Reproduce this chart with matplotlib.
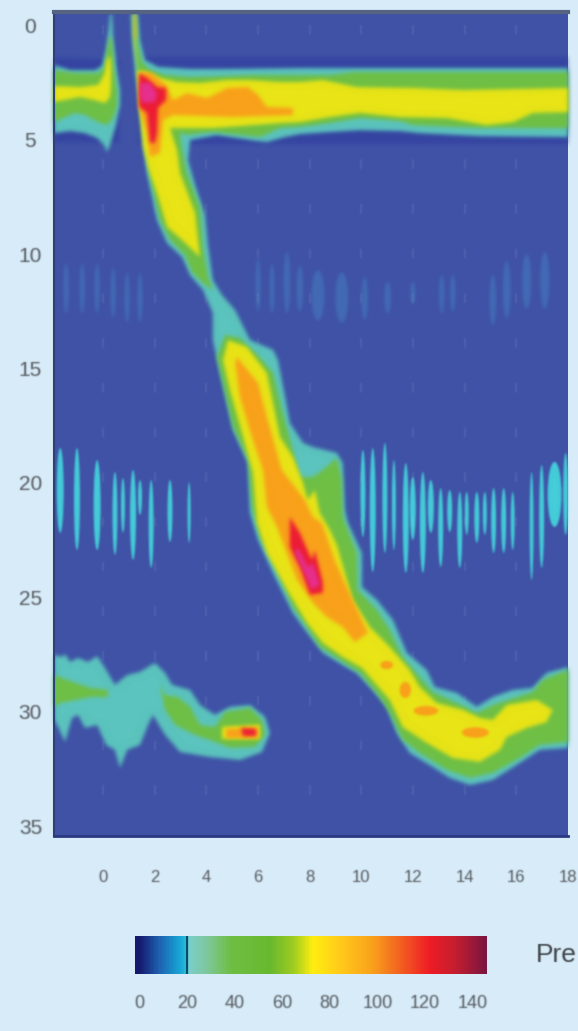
import numpy as np
import matplotlib
matplotlib.use("Agg")
import matplotlib.pyplot as plt
from matplotlib.colors import LinearSegmentedColormap
from matplotlib.patches import Ellipse

plt.rcParams['font.family'] = ['Liberation Sans', 'DejaVu Sans']

# ---- axis labels -----------------------------------------------------------
time_ticks = [0, 2, 4, 6, 8, 10, 12, 14, 16, 18]
depth_ticks = [0, 5, 10, 15, 20, 25, 30, 35]
pressure_ticks = [0, 20, 40, 60, 80, 100, 120, 140]
pressure_title = "Pre"

# ---- isobars: time (s), depth (cm) ------------------------------------------
# upper sphincter band + peristaltic front
main20_t = [1.08,1.35,1.43,1.62,2.13,3.37,4.72,7.62,9.55,18,18,14.58,12.26,11.49,9.94,8.78,7.62,7.04,6.34,5.69,4.41,3.37,3.29,3.56,3.95,4.06,4.25,4.60,5.11,5.69,6.58,6.77,7.12,7.23,7.74,8.12,9.05,9.28,9.36,9.48,10.02,10.02,10.60,11.22,11.76,12.53,12.84,13.69,14.47,15.09,15.86,16.63,17.17,18,18,16.90,16.13,15.09,14.20,13.42,12.76,11.87,11.37,10.98,10.44,9.82,9.28,8.51,7.74,7.35,6.58,6.00,5.69,5.61,5.03,4.53,4.25,4.25,3.87,3.37,3.06,2.48,2.09,1.70,1.51,1.24,1.12]
main20_d = [-0.48,-0.48,0.66,1.53,1.83,1.92,1.92,1.88,1.88,1.88,4.89,4.85,4.72,4.63,4.59,4.67,4.76,4.89,5.11,5.02,4.80,5.02,5.90,6.99,8.30,9.61,11.14,11.79,12.45,13.76,14.19,14.63,16.68,17.38,18.25,18.43,18.69,19.13,21.18,21.75,23.06,24.54,25.11,25.98,27.42,28.17,28.91,29.17,29.78,29.35,29.04,28.95,28.30,28.04,31.57,31.66,32.23,32.97,33.19,32.88,32.40,31.79,30.92,29.78,29.04,28.30,27.95,27.42,26.29,25.68,23.93,22.49,21.31,19.13,17.69,15.20,13.76,12.58,11.57,10.92,10.13,9.52,8.52,6.46,4.72,1.97,0.44]
top40_t = [1.18,1.26,1.35,1.51,1.82,2.40,3.37,4.72,5.69,7.62,8.78,9.75,11.49,18,18,14.58,11.99,11.49,9.94,8.78,7.62,6.85,6.07,4.25,3.25,2.98,3.06,3.25,3.75,3.87,4.06,4.25,3.95,3.44,3.17,2.59,2.20,1.78,1.59,1.35,1.20]
top40_d = [-0.48,-0.48,0.87,1.62,1.97,2.18,2.27,2.23,2.18,2.18,2.18,2.05,2.05,2.05,4.50,4.50,4.37,4.19,4.06,4.28,4.45,4.50,4.89,4.67,4.80,4.72,5.46,6.46,7.95,9.69,11.0,11.57,11.35,10.79,10.04,9.39,8.52,6.46,4.72,2.18,0.44]
top60_t = [1.19,1.24,1.26,1.32,1.70,2.20,2.86,3.75,4.80,5.69,6.85,7.62,8.51,9.82,11.99,13.93,18,18,16.63,15.86,14.85,13.31,11.49,9.94,8.78,7.62,6.85,4.25,2.59,2.86,2.98,3.56,3.75,3.06,2.48,2.13,1.74,1.55,1.43,1.35,1.20]
top60_d = [-0.48,-0.48,0.87,1.97,2.05,2.31,2.49,2.53,2.40,2.40,2.49,2.49,2.40,2.71,2.75,2.84,2.75,3.80,3.84,4.24,4.37,4.06,4.02,3.84,4.02,4.24,4.28,4.50,4.50,5.46,6.46,8.21,10.13,9.39,8.82,7.51,6.20,5.33,3.84,2.40,0.79]
top80_t = [1.82,2.44,2.71,3.25,4.02,4.80,5.61,6.0,6.34,7.35,7.35,5.03,2.71,2.32,2.20,1.82,1.70,1.39,1.39]
top80_d = [2.05,2.62,3.28,2.97,3.19,2.75,2.71,3.06,3.58,3.62,3.93,4.02,3.93,4.15,5.59,5.76,4.72,3.58,2.10]
tip80_t = [1.20,1.25,1.26,1.21]
tip80_d = [-0.48,-0.48,0.57,0.57]
top120_t = [1.39,1.70,2.09,2.44,2.44,2.13,2.09,2.01,1.82,1.70,1.39]
top120_d = [2.10,2.31,2.71,2.75,3.28,3.62,4.72,5.15,5.15,3.84,3.58]
top140_t = [1.43,1.82,2.09,2.01,1.55,1.43]
top140_d = [2.53,2.53,2.97,3.36,3.41,3.14]

# body contraction wave
wave40_t = [4.72,5.30,6.07,6.58,6.96,7.35,7.62,8.12,8.51,9.05,9.24,9.28,9.82,9.86,10.6,11.1,11.6,12.26,12.76,13.69,14.47,15.09,16.63,17.02,18,18,16.9,16.13,15.09,14.2,13.31,12.26,11.6,11.1,10.71,9.94,9.28,8.39,7.62,7.35,6.65,6.07,5.76,5.61,5.03,4.64,4.41]
wave40_d = [13.54,13.67,14.5,15.2,16.94,18.56,19.74,19.74,19.43,18.91,19.87,21.48,23.06,24.67,25.55,26.42,27.6,28.47,29.13,29.61,30.04,29.7,29.13,28.6,28.17,31.31,31.44,32.01,32.66,32.88,32.53,31.79,31.22,30.04,29.35,28.3,27.82,27.16,25.85,25.42,23.67,22.36,21.05,18.99,17.55,15.63,14.5]
wave60_t = [4.84,5.57,6.34,6.85,7.35,7.70,7.93,8.2,8.39,8.78,9.05,9.67,10.33,11.1,11.87,12.26,12.92,13.93,14.58,15.09,15.63,16.79,17.41,17.17,16.4,15.63,15.36,14.58,13.54,12.53,11.6,11.1,10.02,9.28,8.51,7.89,7.12,6.34,5.96,5.80,5.38,4.91,4.64]
wave60_d = [13.76,14.06,15.2,17.99,18.87,19.87,20.74,20.31,21.31,22.05,22.71,25.11,26.29,27.16,28.17,28.91,29.61,29.91,30.26,30.35,29.7,29.48,29.91,30.44,30.7,31.09,31.66,32.18,32.01,31.35,30.66,29.48,28.08,27.6,26.99,26.11,24.67,23.06,21.75,19.56,17.82,15.94,14.63]
wave80_t = [5.18,6.0,6.34,6.92,7.81,8.12,8.47,8.97,9.48,10.25,9.75,9.28,8.66,8.12,7.5,6.73,6.34,6.19,5.76,5.3,5.11]
wave80_d = [14.5,15.63,17.12,19.43,20.74,21.48,21.75,23.37,24.67,26.55,26.95,26.29,25.85,25.24,24.23,21.92,21.05,19.43,17.99,16.25,14.76]
wave120_t = [7.23,7.62,8.08,8.2,8.51,8.51,8.01,7.62,7.23]
wave120_d = [21.48,22.18,23.36,22.93,24.37,24.8,24.89,23.67,22.8]
wave140_t = [7.54,7.93,8.12,8.39,8.08,7.74,7.43]
wave140_d = [22.8,23.67,23.49,24.45,24.67,23.8,23.06]
spot80_t = [10.98,11.70,12.50,14.41]
spot80_d = [27.95,29.04,29.95,30.90]
spot80_dt = [0.50,0.44,0.95,1.05]
spot80_dd = [0.36,0.70,0.42,0.46]

# left segment of the upper sphincter and pharyngeal peak
left20_t = [-1.9,-1.28,-.31,-.04,.12,.23,.27,.35,.39,.54,.66,.66,.5,.27,.15,.04,-.23,-.7,-1.28,-1.9]
left20_d = [1.75,1.97,1.97,1.79,1.09,0,-.48,-.48,.66,1.97,2.84,3.49,4.37,5.24,5.55,5.24,4.93,4.72,4.63,4.72]
left40_t = [-1.9,-1.08,-.19,.04,.15,.27,.35,.43,.54,.54,.39,.15,-.19,-.7,-1.08,-1.47,-1.9]
left40_d = [1.97,2.1,2.1,1.88,1.09,.44,.66,1.97,2.84,3.49,4.06,4.37,4.24,3.93,3.84,4.02,4.24]
left60_t = [-1.9,-.89,-.19,.04,.15,.27,.31,.31,.27,.08,-.31,-.89,-1.9]
left60_d = [2.66,2.71,2.62,2.18,1.53,1.31,1.75,2.62,3.14,3.41,3.28,3.14,3.36]

# lower sphincter segment, bottom left
low20_t = [-1.9,-1.59,-1.47,-1.28,-.97,-.58,-.23,0,.46,.93,1.43,2.01,2.4,2.67,3.37,3.75,4.33,4.91,5.69,6.27,6.46,6.15,5.3,4.14,2.98,2.4,1.93,1.74,1.43,.93,.66,.46,.12,-.23,-.7,-.97,-1.2,-1.47,-1.78,-1.9]
low20_d = [27.51,27.6,27.47,27.82,27.64,27.82,27.56,27.95,28.82,28.39,28.25,27.86,28.3,28.82,29.04,29.7,30.13,29.78,29.7,30.22,30.92,31.75,32.1,31.97,31.75,31.0,30.13,30.57,31.44,31.66,32.45,31.66,31.44,30.57,30.7,30.13,30.26,31.31,30.57,30.35]
lowa40_t = [-1.9,-1.08,-.5,.19,.19,-.5,-1.08,-1.66,-1.9]
lowa40_d = [28.39,28.73,28.95,29.04,29.35,29.35,29.48,29.61,29.78]
lowb40_t = [2.2,2.4,2.9,3.37,3.75,4.33,4.72,5.69,6.15,6.27,5.88,4.91,4.33,3.56,2.79,2.4]
lowb40_d = [28.82,29.26,29.35,29.78,30.57,30.66,30.0,29.83,30.35,31.0,31.53,31.57,31.31,31.0,30.57,29.91]
low60_t = [4.6,6.08,6.08,4.6]
low60_d = [30.65,30.56,31.18,31.18]
low80_t = [4.76,6.0,6.0,4.76]
low80_d = [30.74,30.69,31.14,31.14]
low120_t = [5.34,5.92,5.92,5.42]
low120_d = [30.70,30.74,31.05,31.05]

# darker low-pressure fringe round the upper band: time, upper depth, lower depth
fringe_t = [-1.9, 0.6, 1.4, 18]
fringe_top = [1.4, 1.5, 1.4, 1.4]
fringe_bot = [5.1, 5.1, 5.2, 5.2]

# thin pressure streaks: time, upper depth, lower depth, duration
streak_t = [-1.66,-1.01,-.23,.46,.77,1.16,1.43,1.86,2.59,3.33,10.06,10.44,10.91,11.26,11.72,11.99,12.38,12.69,13.07,13.42,13.81,14.08,14.47,14.78,15.12,15.51,15.86,16.59,16.98,17.48,17.91]
streak_top = [18.47,18.47,19.0,19.52,19.78,19.43,19.87,19.87,19.87,19.96,18.56,18.47,18.25,19.0,19.13,19.74,19.52,19.87,20.22,20.31,20.39,20.39,20.39,20.39,20.22,20.22,20.39,19.52,19.21,19.08,18.69]
streak_bot = [22.18,22.93,22.93,23.14,22.18,23.36,21.4,23.71,22.58,22.62,22.36,23.89,23.06,22.93,23.93,22.49,23.93,22.18,23.67,22.14,23.71,22.27,22.62,22.27,23.06,23.06,22.93,24.24,23.71,21.92,22.27]
streak_dt = [.27,.23,.27,.19,.15,.23,.15,.19,.19,.12,.19,.23,.19,.15,.23,.23,.23,.23,.19,.19,.19,.15,.19,.15,.19,.19,.15,.15,.19,.54,.19]
faint_t = [-1.43,-.81,-.23,.39,.93,1.43,6.0,6.54,7.12,7.62,8.32,9.24,10.13,11.02,11.99,13.11,13.54,15.09,15.63,16.4,17.1]
faint_top = [10.4,10.4,10.4,10.6,10.8,10.8,10.2,10.4,9.9,10.5,10.7,10.8,11.0,11.2,11.2,10.9,10.9,10.9,10.3,10.0,9.9]
faint_bot = [12.6,12.6,12.6,12.8,13.0,13.0,12.5,12.6,12.6,12.5,12.9,13.0,12.9,12.6,12.2,12.6,12.5,13.1,12.8,12.4,12.4]
faint_dt = [.2,.2,.2,.2,.2,.2,.2,.2,.25,.25,.5,.5,.25,.25,.2,.2,.2,.25,.3,.35,.35]

# colour scale: pressure stop, colour
scale_p = [0,8,17,19.9,21,28,38,55,65,73,85,98,108,122,132,146]
scale_c = ['#15196E','#1E5FAF','#18A5D6','#2EBFD6','#7CCDC8','#7DC8A0','#6FBE45','#68B82E','#A0CC20','#FFEE10','#FFC81A','#F9A11B','#F36A20','#EE1C25','#C81E2E','#7A1540']

C_BG = '#3F52A6'; C20 = '#5CC4BE'; C40 = '#6FBF45'; C60 = '#E8E416'
C80 = '#F9A11B'; C120 = '#ED1C36'; C140 = '#E6308F'
PAGE = '#D7EBF8'; TXT = '#55595E'


def blur(sigma):
    r = int(3 * sigma) + 1
    k = np.exp(-0.5 * (np.arange(-r, r + 1) / sigma) ** 2)
    k /= k.sum()

    def run(img, dpi):
        pad = r + 1
        src = np.pad(img, ((pad, pad), (pad, pad), (0, 0)))
        a = src[..., 3:]
        pm = np.concatenate([src[..., :3] * a, a], axis=2)
        for axis in (0, 1):
            out = np.zeros_like(pm)
            for w, s in zip(k, range(-r, r + 1)):
                out += w * np.roll(pm, s, axis=axis)
            pm = out
        al = np.clip(pm[..., 3:], 1e-4, 1)
        res = np.concatenate([np.clip(pm[..., :3] / al, 0, 1), pm[..., 3:]], axis=2)
        return res, -pad, -pad
    return run


fig = plt.figure(figsize=(5.78, 10.31), dpi=100, facecolor=PAGE)
ax = fig.add_axes([54 / 578, 1 - 836 / 1031, 514 / 578, 824 / 1031], facecolor=C_BG)
ax.set_xlim(-1.9, 18)
ax.set_ylim(35.42, -0.57)

soft = blur(2.0)
fr = ax.fill_between(fringe_t[:2], fringe_top[:2], fringe_bot[:2], color='#2E3A9E', alpha=0.55, lw=0, zorder=0.8)
fr.set_agg_filter(blur(1.5))
fr = ax.fill_between(fringe_t[2:], fringe_top[2:], fringe_bot[2:], color='#2E3A9E', alpha=0.55, lw=0, zorder=0.8)
fr.set_agg_filter(blur(1.5))
for t, top, bot, dt in zip(faint_t, faint_top, faint_bot, faint_dt):
    e = Ellipse((t, (top + bot) / 2), dt, bot - top, color='#4472BA', lw=0, alpha=0.75, zorder=1)
    ax.add_patch(e)
    e.set_agg_filter(blur(1.6))
for t, top, bot, dt in zip(streak_t, streak_top, streak_bot, streak_dt):
    e = Ellipse((t, (top + bot) / 2), dt, bot - top, color='#45CDDA', lw=0, zorder=1)
    ax.add_patch(e)
    e.set_agg_filter(blur(1.0))
grid = ax.vlines(time_ticks[:-1], 0, 35, colors='white', alpha=0.09, lw=1.4,
                 linestyles=(0, (5, 18)), zorder=1.5)
grid.set_agg_filter(blur(0.8))

layers = [
    (main20_t, main20_d, C20), (left20_t, left20_d, C20), (low20_t, low20_d, C20),
    (top40_t, top40_d, C40), (wave40_t, wave40_d, C40), (left40_t, left40_d, C40),
    (lowa40_t, lowa40_d, C40), (lowb40_t, lowb40_d, C40),
    (top60_t, top60_d, C60), (wave60_t, wave60_d, C60), (left60_t, left60_d, C60),
    (low60_t, low60_d, C60),
    (top80_t, top80_d, C80), (tip80_t, tip80_d, C80), (wave80_t, wave80_d, C80),
    (low80_t, low80_d, C80),
    (top120_t, top120_d, C120), (wave120_t, wave120_d, C120), (low120_t, low120_d, C120),
    (top140_t, top140_d, C140), (wave140_t, wave140_d, C140),
]
for i, (tt, dd, col) in enumerate(layers):
    poly = ax.fill(tt, dd, color=col, lw=0, zorder=2 + i * 0.01)[0]
    poly.set_agg_filter(soft)
for t, d, dt, dd in zip(spot80_t, spot80_d, spot80_dt, spot80_dd):
    e = Ellipse((t, d), dt, dd, color=C80, lw=0, zorder=3)
    ax.add_patch(e)
    e.set_agg_filter(blur(1.2))

ax.set_xticks(time_ticks)
ax.set_yticks(depth_ticks)
ax.tick_params(axis='x', length=0, pad=30, labelsize=12, labelcolor=TXT)
ax.tick_params(axis='y', length=0, pad=17, labelsize=15, labelcolor=TXT)
text_soft = blur(0.7)
for lab in ax.get_xticklabels():
    lab.set_va('center')
    lab.set_agg_filter(text_soft)
for lab in ax.get_yticklabels():
    lab.set_ha('center')
    lab.set_agg_filter(text_soft)
ax.spines['right'].set_visible(False)
ax.spines['top'].set_color('#566381'); ax.spines['top'].set_linewidth(3)
ax.spines['left'].set_color('#2F3F78'); ax.spines['left'].set_linewidth(1.5)
ax.spines['bottom'].set_color('#2B3A80'); ax.spines['bottom'].set_linewidth(2)

# colour bar
cax = fig.add_axes([135 / 578, 1 - 974 / 1031, 352 / 578, 38 / 1031])
vmin, vmax = -1.7, 146
nodes = [(p - scale_p[0]) / (scale_p[-1] - scale_p[0]) for p in scale_p]
cmap = LinearSegmentedColormap.from_list('pressure', list(zip(nodes, scale_c)))
sm = plt.cm.ScalarMappable(cmap=cmap, norm=plt.Normalize(scale_p[0], scale_p[-1]))
cb = fig.colorbar(sm, cax=cax, orientation='horizontal')
cb.outline.set_visible(False)
cax.set_xlim(vmin, vmax)
cax.set_facecolor('#15196E')
cb.set_ticks(pressure_ticks)
cax.tick_params(axis='x', length=0, pad=21, labelsize=13, labelcolor=TXT)
for lab in cax.get_xticklabels():
    lab.set_va('center')
    lab.set_agg_filter(text_soft)
cax.axvline(pressure_ticks[1], color='#0A4A6A', lw=1.5)

title = fig.text(536 / 578, 1 - 955 / 1031, pressure_title, fontsize=19, color='#3F4448',
                 ha='left', va='center')
title.set_agg_filter(blur(0.6))

fig.savefig('out.png', dpi=100, facecolor=PAGE)
